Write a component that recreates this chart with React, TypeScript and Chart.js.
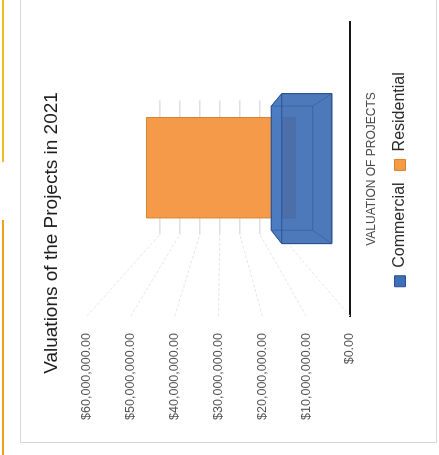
import React, { useEffect, useRef } from "react";
import { Chart, registerables } from "chart.js";

Chart.register(...registerables);

// ---------- data ----------
const chartTitle = "Valuations of the Projects in 2021";
const categories = ["VALUATION OF PROJECTS"];
const seriesNames = ["Commercial", "Residential"];
const commercialValues = [13300000];
const residentialValues = [59000000];
const axisMin = 0;
const axisMax = 60000000;
const axisStep = 10000000;

// ---------- style ----------
const FONT = "'Liberation Sans', Arial, sans-serif";
const BLUE = "#3f6fb8";
const BLUE_EDGE = "#2a5290";
const ORANGE = "#f59a48";
const ORANGE_EDGE = "#d9822f";

// perspective depth factors (front / back of each series row, back wall)
const ROW_DEPTH = [
  { front: 0.859, back: 0.711 },
  { front: 0.575, back: 0.5 },
];
const BACK_WALL = 0.456;

const fmtMoney = (v: number) =>
  "$" +
  Number(v).toLocaleString("en-US", {
    minimumFractionDigits: 2,
    maximumFractionDigits: 2,
  });

function hull(pts: number[][]) {
  const p = pts.slice().sort((a, b) => a[0] - b[0] || a[1] - b[1]);
  const cross = (o: number[], a: number[], b: number[]) =>
    (a[0] - o[0]) * (b[1] - o[1]) - (a[1] - o[1]) * (b[0] - o[0]);
  const lower: number[][] = [];
  for (const q of p) {
    while (lower.length >= 2 && cross(lower[lower.length - 2], lower[lower.length - 1], q) <= 0) lower.pop();
    lower.push(q);
  }
  const upper: number[][] = [];
  for (let i = p.length - 1; i >= 0; i--) {
    const q = p[i];
    while (upper.length >= 2 && cross(upper[upper.length - 2], upper[upper.length - 1], q) <= 0) upper.pop();
    upper.push(q);
  }
  upper.pop();
  lower.pop();
  return lower.concat(upper);
}

const perspective3D = {
  id: "perspective3D",
  beforeDatasetsDraw(chart: any) {
    const { ctx, chartArea: ca, scales } = chart;
    const y = scales.y;
    const cu = ca.left + 150;
    const vy = ca.top + 134;
    const P = (x: number, yy: number, s: number) => [cu + (x - cu) * s, vy + (yy - vy) * s];
    ctx.save();
    ctx.lineWidth = 1;
    y.ticks.forEach((t: any) => {
      const py = y.getPixelForValue(t.value);
      const a = P(ca.left, py, BACK_WALL);
      const b = P(ca.right, py, BACK_WALL);
      ctx.strokeStyle = "#e6e6e6";
      ctx.setLineDash([3, 2]);
      ctx.beginPath();
      ctx.moveTo(ca.left, py);
      ctx.lineTo(a[0], a[1]);
      ctx.stroke();
      ctx.setLineDash([]);
      ctx.strokeStyle = "#cfcfcf";
      ctx.beginPath();
      ctx.moveTo(a[0], a[1]);
      ctx.lineTo(b[0], b[1]);
      ctx.stroke();
    });
    ctx.restore();
  },
  beforeDatasetDraw() {
    return false;
  },
  afterDatasetsDraw(chart: any) {
    const { ctx, chartArea: ca } = chart;
    const cu = ca.left + 150;
    const vy = ca.top + 134;
    const P = (x: number, yy: number, s: number) => [cu + (x - cu) * s, vy + (yy - vy) * s];
    const n = chart.data.datasets.length;
    for (let di = n - 1; di >= 0; di--) {
      const meta = chart.getDatasetMeta(di);
      const depth = ROW_DEPTH[di];
      const translucent = di === 0;
      meta.data.forEach((el: any) => {
        const { x, y, base, width } = el.getProps(["x", "y", "base", "width"], true);
        const L = x - width / 2;
        const R = x + width / 2;
        const f = [P(L, y, depth.front), P(R, y, depth.front), P(R, base, depth.front), P(L, base, depth.front)];
        const b = [P(L, y, depth.back), P(R, y, depth.back), P(R, base, depth.back), P(L, base, depth.back)];
        const h = hull(f.concat(b));
        ctx.save();
        ctx.beginPath();
        h.forEach((q, i) => (i ? ctx.lineTo(q[0], q[1]) : ctx.moveTo(q[0], q[1])));
        ctx.closePath();
        ctx.fillStyle = translucent ? "rgba(58,106,180,0.9)" : ORANGE;
        ctx.fill();
        if (y > vy) {
          ctx.beginPath();
          ctx.moveTo(f[0][0], f[0][1]);
          ctx.lineTo(f[1][0], f[1][1]);
          ctx.lineTo(b[1][0], b[1][1]);
          ctx.lineTo(b[0][0], b[0][1]);
          ctx.closePath();
          ctx.fillStyle = translucent ? "rgba(78,126,196,0.85)" : ORANGE;
          ctx.fill();
        }
        const poly = (pts: number[][]) => {
          ctx.beginPath();
          pts.forEach((q, i) => (i ? ctx.lineTo(q[0], q[1]) : ctx.moveTo(q[0], q[1])));
          ctx.closePath();
          ctx.stroke();
        };
        const seg = (a: number[], c: number[]) => {
          ctx.beginPath();
          ctx.moveTo(a[0], a[1]);
          ctx.lineTo(c[0], c[1]);
          ctx.stroke();
        };
        ctx.lineWidth = 1;
        if (translucent) {
          ctx.strokeStyle = "rgba(42,82,144,0.5)";
          poly(b);
          for (let k = 0; k < 4; k++) seg(f[k], b[k]);
          ctx.strokeStyle = BLUE_EDGE;
          poly(f);
          ctx.beginPath();
          h.forEach((q, i) => (i ? ctx.lineTo(q[0], q[1]) : ctx.moveTo(q[0], q[1])));
          ctx.closePath();
          ctx.stroke();
        } else {
          ctx.strokeStyle = ORANGE_EDGE;
          poly(f);
        }
        ctx.restore();
      });
    }
  },
};

const shiftBoxes = {
  id: "shiftBoxes",
  afterLayout(chart: any) {
    const t = chart.titleBlock;
    if (t) {
      const d = 222 - (t.left + t.right) / 2;
      t.left += d;
      t.right += d;
    }
    const lg = chart.legend;
    if (lg) {
      const d = 275.5 - (lg.left + lg.right) / 2;
      lg.left += d;
      lg.right += d;
    }
  },
};

export default function App() {
  const ref = useRef<HTMLCanvasElement>(null);
  useEffect(() => {
    const chart = new Chart(ref.current as HTMLCanvasElement, {
      type: "bar",
      data: {
        labels: categories,
        datasets: [
          {
            label: seriesNames[0],
            data: commercialValues,
            backgroundColor: BLUE,
            borderColor: BLUE_EDGE,
            borderWidth: 1,
            grouped: false,
            barPercentage: 0.594,
            categoryPercentage: 1,
          } as any,
          {
            label: seriesNames[1],
            data: residentialValues,
            backgroundColor: ORANGE,
            borderColor: ORANGE_EDGE,
            borderWidth: 1,
            grouped: false,
            barPercentage: 0.594,
            categoryPercentage: 1,
          } as any,
        ],
      },
      options: {
        responsive: false,
        animation: false,
        devicePixelRatio: 1,
        layout: { padding: { left: 0, right: 22, top: 0, bottom: 21 } },
        plugins: {
          title: {
            display: true,
            text: chartTitle,
            color: "#1e1e1e",
            font: { family: FONT, size: 19, weight: "normal" },
            padding: { top: 40.6, bottom: 23.6 },
          },
          legend: {
            display: true,
            position: "bottom",
            labels: {
              color: "#2a2a2a",
              font: { family: FONT, size: 16 },
              boxWidth: 11,
              boxHeight: 11,
              padding: 12,
            },
          },
          tooltip: { enabled: false },
        },
        scales: {
          x: {
            grid: { display: false, drawTicks: false, tickLength: 0 },
            border: { display: true, color: "#161616", width: 2 },
            ticks: {
              color: "#4a4a4a",
              font: { family: FONT, size: 12 },
              padding: 14,
            },
            afterFit(scale: any) {
              scale.height = 30;
            },
          },
          y: {
            min: axisMin,
            max: axisMax,
            grid: { display: false, drawTicks: false, tickLength: 0 },
            border: { display: false },
            ticks: {
              stepSize: axisStep,
              color: "#555555",
              font: { family: FONT, size: 12.5 },
              padding: 17,
              callback: (v: any) => fmtMoney(v),
            },
            afterFit(scale: any) {
              scale.width = 139;
            },
          },
        },
      } as any,
      plugins: [perspective3D, shiftBoxes],
    });
    return () => chart.destroy();
  }, []);

  return (
    <div
      style={{
        position: "fixed",
        left: 0,
        top: 0,
        width: 439,
        height: 455,
        overflow: "hidden",
        background: "#ffffff",
      }}
    >
      <div
        style={{
          position: "absolute",
          left: -8,
          top: 8,
          width: 455,
          height: 439,
          transform: "rotate(-90deg)",
        }}
      >
        <div style={{ position: "absolute", left: 0, top: 2, width: 235, height: 2, background: "#eaa21e" }} />
        <div style={{ position: "absolute", left: 293, top: 2, width: 162, height: 2, background: "#f0bd20" }} />
        <div
          style={{
            position: "absolute",
            left: 12,
            top: 20,
            width: 460,
            height: 415,
            border: "1px solid #d8d8d8",
          }}
        />
        <canvas
          ref={ref}
          width={455}
          height={439}
          style={{ position: "absolute", left: 0, top: 0, width: 455, height: 439 }}
        />
      </div>
    </div>
  );
}
